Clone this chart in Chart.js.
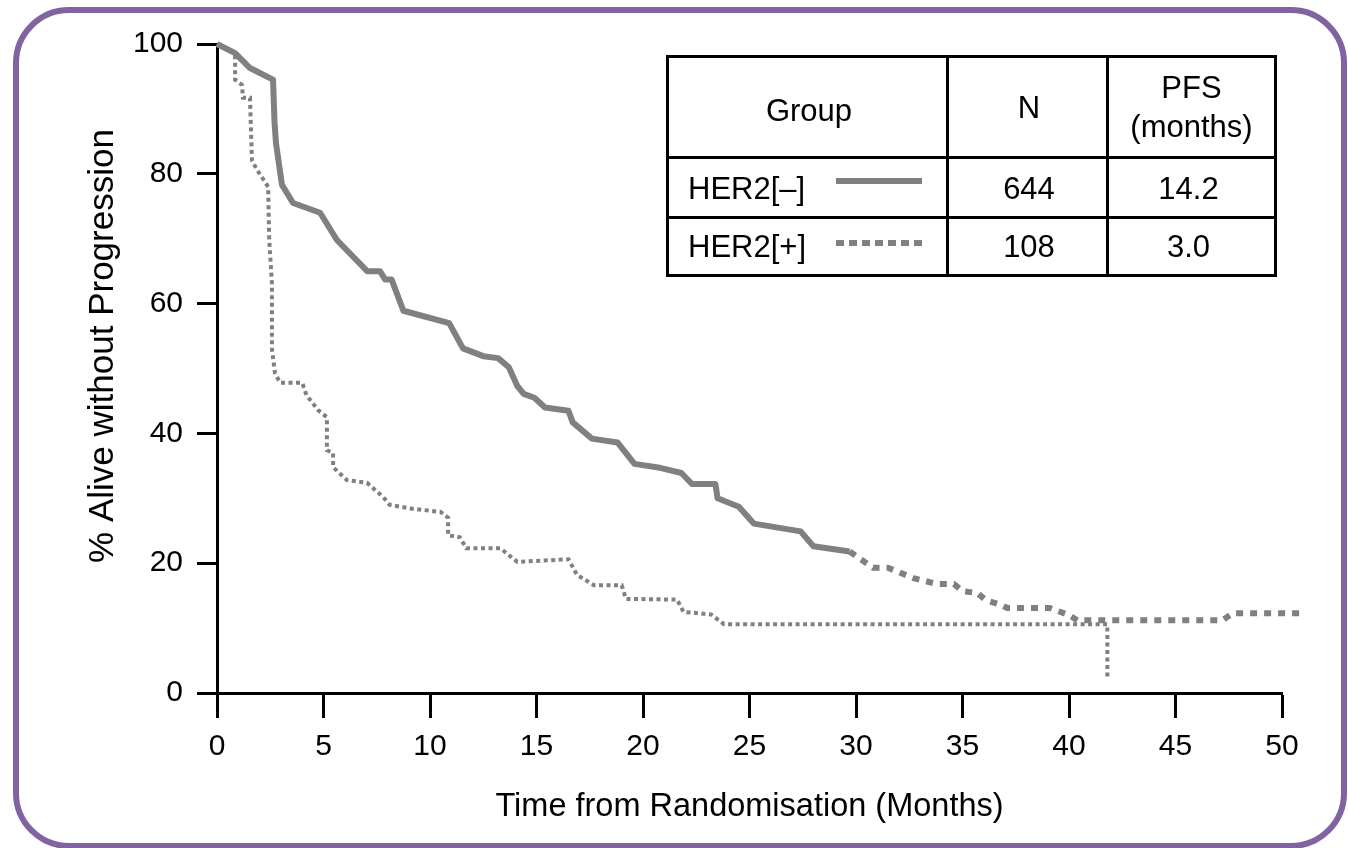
<!DOCTYPE html>
<html>
<head>
<meta charset="utf-8">
<script src="https://cdn.jsdelivr.net/npm/chart.js@4.4.1/dist/chart.umd.min.js"></script>
<style>
  html, body { margin: 0; padding: 0; background: #fff; }
  body { width: 1348px; height: 848px; position: relative; overflow: hidden;
         font-family: "Liberation Sans", Arial, Helvetica, sans-serif; }
  #frame { position: absolute; left: 13px; top: 7px; width: 1334px; height: 842px;
           border: 6px solid #8064a2; border-radius: 56px; box-sizing: border-box; }
  #c { position: absolute; left: 0; top: 0; }
  #tbl { position: absolute; left: 666px; top: 55px; width: 611px; height: 222px;
         border: 3px solid #000; box-sizing: border-box; font-size: 31px; color: #000; }
  .vl { position: absolute; top: -3px; bottom: -3px; width: 3px; background: #000; }
  .hl { position: absolute; left: -3px; right: -3px; height: 3px; background: #000; }
  .cell { position: absolute; display: flex; align-items: center; justify-content: center;
          text-align: center; line-height: 1.25; }
  .sw { position: absolute; height: 6px; }
</style>
</head>
<body>
<div id="frame"></div>
<canvas id="c" width="1348" height="848"></canvas>
<div id="tbl"></div>
<script>
// ---- data ----
const xTicks = [0, 5, 10, 15, 20, 25, 30, 35, 40, 45, 50];
const yTicks = [0, 20, 40, 60, 80, 100];
const seriesNames = ["HER2[–]", "HER2[+]"];
const seriesN = ["644", "108"];
const seriesPFS = ["14.2", "3.0"];
const tableHeaders = ["Group", "N", "PFS\n(months)"];
const xTitle = "Time from Randomisation (Months)";
const yTitle = "% Alive without Progression";
const dashStartMonth = 29.7; // HER2[-] curve drawn dashed after this time

const her2NegMonths = [0, 0.85, 1.55, 2.63, 2.7, 2.77, 3.05, 3.57, 4.84, 5.63, 7.05, 7.65, 7.9, 8.2, 8.75, 10.9, 11.55, 12.5, 13.2, 13.7, 14.1, 14.4, 14.9, 15.4, 16.5, 16.7, 17.6, 18.8, 19.6, 20.8, 21.8, 22.3, 23.4, 23.5, 24.5, 25.2, 27.4, 28.0, 29.7, 30.8, 31.5, 32.7, 33.8, 34.6, 35.0, 35.7, 36.1, 36.8, 37.1, 39.1, 40.0, 40.4, 47.2, 47.7, 51.1];
const her2NegPct    = [100, 98.6, 96.3, 94.5, 88, 84.7, 78.3, 75.5, 74.0, 69.8, 65.0, 65.0, 63.7, 63.7, 58.9, 57.0, 53.1, 51.9, 51.6, 50.2, 47.3, 46.1, 45.5, 44.0, 43.5, 41.7, 39.2, 38.6, 35.3, 34.7, 33.9, 32.2, 32.2, 30.0, 28.7, 26.1, 24.9, 22.6, 21.8, 19.3, 19.3, 17.7, 16.8, 16.8, 15.7, 15.4, 14.3, 13.6, 13.1, 13.1, 12.0, 11.2, 11.2, 12.3, 12.3];

const her2PosMonths = [0, 0.85, 0.85, 1.17, 1.22, 1.55, 1.64, 1.88, 2.4, 2.45, 2.58, 2.58, 2.72, 2.96, 4.0, 4.2, 4.74, 5.16, 5.16, 5.45, 5.45, 6.1, 7.04, 7.8, 8.1, 9.15, 10.5, 10.85, 10.85, 11.4, 11.7, 13.3, 14.1, 16.5, 16.9, 17.7, 19.0, 19.2, 21.6, 21.9, 23.2, 23.8, 41.8, 41.8];
const her2PosPct    = [100, 98.6, 94.5, 93.7, 91.7, 91.7, 82.1, 80.6, 78.0, 70.0, 63.0, 53.0, 49.3, 47.8, 47.8, 45.9, 43.6, 42.5, 37.4, 37.0, 34.8, 32.8, 32.4, 30.2, 29.0, 28.4, 27.9, 27.0, 24.3, 24.0, 22.3, 22.3, 20.2, 20.6, 18.2, 16.6, 16.6, 14.5, 14.4, 12.5, 12.1, 10.6, 10.6, 2.0];

const toPts = (xs, ys) => xs.map((x, i) => ({ x: x, y: ys[i] }));

// ---- table legend ----
const tbl = document.getElementById('tbl');
function add(cls, style, text) {
  const d = document.createElement('div');
  d.className = cls;
  Object.assign(d.style, style);
  if (text !== undefined) d.textContent = text;
  tbl.appendChild(d);
  return d;
}
add('vl', { left: (947 - 669 - 1) + 'px' });
add('vl', { left: (1107 - 669 - 1) + 'px' });
add('hl', { top: (157 - 58 - 1) + 'px' });
add('hl', { top: (217 - 58 - 1) + 'px' });
const colL = [669, 949, 1109, 1274];
const rowT = [58, 158, 218, 274];
function cell(c, r, text, extra) {
  const st = { left: (colL[c] - 669) + 'px', top: (rowT[r] - 58) + 'px',
               width: (colL[c + 1] - colL[c]) + 'px', height: (rowT[r + 1] - rowT[r]) + 'px',
               whiteSpace: 'pre', boxSizing: 'border-box' };
  return add('cell', Object.assign(st, extra || {}), text);
}
cell(0, 0, tableHeaders[0], { paddingTop: '6px' });
cell(1, 0, tableHeaders[1]);
cell(2, 0, tableHeaders[2]);
for (let i = 0; i < 2; i++) {
  cell(0, i + 1, seriesNames[i], { justifyContent: 'flex-start', paddingLeft: '19px', paddingTop: '3px' });
  cell(1, i + 1, seriesN[i], { paddingTop: '3px' });
  cell(2, i + 1, seriesPFS[i], { paddingTop: '3px', paddingRight: '6px' });
}
add('sw', { left: (836 - 669) + 'px', top: (178 - 58) + 'px', width: '86px', background: '#808080' });
add('sw', { left: (836 - 669) + 'px', top: (240 - 58) + 'px', width: '86px',
  background: 'repeating-linear-gradient(90deg, #808080 0 8px, transparent 8px 13px)' });

// ---- chart ----
const FONT = '"Liberation Sans", Arial, Helvetica, sans-serif';
const yTitlePlugin = {
  id: 'yTitle',
  afterDraw(chart) {
    const ctx = chart.ctx;
    ctx.save();
    ctx.translate(103, 346);
    ctx.rotate(-Math.PI / 2);
    ctx.font = '35px ' + FONT;
    ctx.fillStyle = '#000';
    ctx.textAlign = 'center';
    ctx.textBaseline = 'middle';
    ctx.fillText(yTitle, 0, 0);
    ctx.restore();
  }
};

new Chart(document.getElementById('c'), {
  type: 'line',
  data: {
    datasets: [
      {
        label: seriesNames[0],
        data: toPts(her2NegMonths, her2NegPct),
        borderColor: '#808080',
        borderWidth: 6,
        borderCapStyle: 'butt',
        borderJoinStyle: 'round',
        pointRadius: 0,
        tension: 0,
        clip: false,
        segment: {
          borderDash: ctx => ctx.p0.parsed.x >= dashStartMonth ? [7, 7] : undefined
        }
      },
      {
        label: seriesNames[1],
        data: toPts(her2PosMonths, her2PosPct),
        borderColor: '#808080',
        borderWidth: 4,
        borderDash: [4, 3.5],
        borderCapStyle: 'butt',
        pointRadius: 0,
        tension: 0,
        clip: false
      }
    ]
  },
  options: {
    responsive: false,
    animation: false,
    devicePixelRatio: 1,
    layout: { padding: { left: 0, top: 44, right: 66, bottom: 0 } },
    plugins: { legend: { display: false }, tooltip: { enabled: false } },
    scales: {
      x: {
        type: 'linear',
        min: 0, max: 50,
        afterFit: s => { s.height = 155; },
        afterBuildTicks: s => { s.ticks = xTicks.map(v => ({ value: v })); },
        border: { display: true, color: '#000', width: 3 },
        grid: { drawOnChartArea: false, drawTicks: true, tickLength: 25, tickWidth: 3, tickColor: '#000' },
        ticks: { color: '#000', font: { family: FONT, size: 30 }, padding: 11, maxRotation: 0 },
        title: { display: true, text: xTitle, color: '#000', font: { family: FONT, size: 32.5 },
                 padding: { top: 0, bottom: 21 } }
      },
      y: {
        type: 'linear',
        min: 0, max: 100,
        afterFit: s => { s.width = 217; },
        afterBuildTicks: s => { s.ticks = yTicks.map(v => ({ value: v })); },
        border: { display: true, color: '#000', width: 3 },
        grid: { drawOnChartArea: false, drawTicks: true, tickLength: 20, tickWidth: 3, tickColor: '#000' },
        ticks: { color: '#000', font: { family: FONT, size: 30 }, padding: 14 }
      }
    }
  },
  plugins: [yTitlePlugin]
});
</script>
</body>
</html>
